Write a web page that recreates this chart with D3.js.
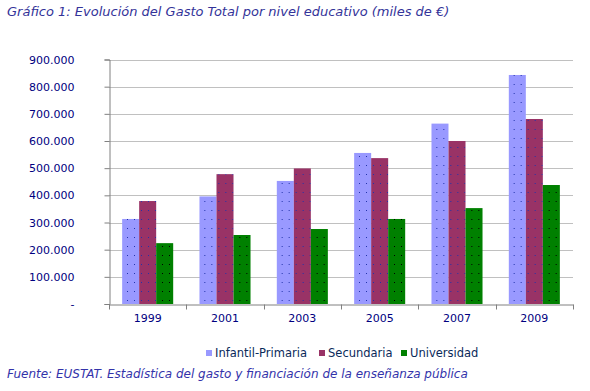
<!DOCTYPE html>
<html>
<head>
<meta charset="utf-8">
<script src="https://cdn.jsdelivr.net/npm/d3@7"></script>
<style>
  body { margin: 0; background: #fff; }
  text { font-family: "DejaVu Sans", Verdana, sans-serif; }
</style>
</head>
<body>
<script>
const years = ['1999', '2001', '2003', '2005', '2007', '2009']
const series = ['Infantil-Primaria', 'Secundaria', 'Universidad']
const infantil = [313000, 396000, 453000, 556000, 664000, 843000]
const secundaria = [379000, 478000, 499000, 537000, 600000, 681000]
const universidad = [224000, 254000, 276000, 313000, 353000, 438000]
const yTicks = [0, 100000, 200000, 300000, 400000, 500000, 600000, 700000, 800000, 900000]

const colors = ['#9999ff', '#993366', '#008000']
const dotColors = ['#2233aa', '#2233aa', '#000000']
const values = [infantil, secundaria, universidad]

const w = 590
const h = 391
const plotLeft = 109
const plotRight = 573
const plotTop = 59.5
const plotBottom = 304

const svg = d3.select('body')
     .append('svg')
     .attr('width', w)
     .attr('height', h)

// dotted fills like the original
const defs = svg.append('defs')
colors.forEach((c, i) => {
     const p = defs.append('pattern')
          .attr('id', 'pat' + i)
          .attr('patternUnits', 'userSpaceOnUse')
          .attr('width', 7)
          .attr('height', 9)
     p.append('rect').attr('width', 7).attr('height', 9).attr('fill', c)
     p.append('rect').attr('x', 4).attr('y', 3).attr('width', 1).attr('height', 1).attr('fill', dotColors[i])
})

const loc = d3.formatLocale({decimal: ',', thousands: '.', grouping: [3], currency: ['', '']})
const fmt = loc.format(',d')

const y = d3.scaleLinear().domain([0, 900000]).range([plotBottom, plotTop])
const x = d3.scaleBand().domain(years).range([plotLeft, plotRight])
const gap = x.bandwidth() * 0.17
const x1 = d3.scaleBand().domain(series).range([gap, x.bandwidth() - gap])

// gridlines
svg.append('g')
     .selectAll('line')
     .data(yTicks.slice(1))
     .enter()
     .append('line')
     .attr('x1', plotLeft)
     .attr('x2', plotRight)
     .attr('y1', d => Math.round(y(d)) + 0.5)
     .attr('y2', d => Math.round(y(d)) + 0.5)
     .attr('stroke', '#c0c0c0')

// bars
const groups = svg.append('g')
     .selectAll('g')
     .data(years)
     .enter()
     .append('g')
     .attr('transform', d => 'translate(' + x(d) + ',0)')

groups.selectAll('rect')
     .data((d, i) => series.map((s, j) => ({s: s, j: j, v: values[j][i]})))
     .enter()
     .append('rect')
     .attr('x', d => x1(d.s))
     .attr('width', x1.bandwidth())
     .attr('y', d => y(d.v))
     .attr('height', d => y(0) - y(d.v))
     .attr('fill', d => 'url(#pat' + d.j + ')')

// y axis
const yAxis = d3.axisLeft(y)
     .tickValues(yTicks)
     .tickSize(5)
     .tickPadding(35 - 5)
     .tickFormat(d => d === 0 ? '-' : fmt(d))

const gy = svg.append('g')
     .attr('transform', 'translate(' + (plotLeft + 0.5) + ',0)')
     .call(yAxis)
gy.selectAll('line').attr('stroke', '#808080')
gy.select('.domain').attr('stroke', '#808080')
gy.selectAll('text')
     .attr('font-size', 11)
     .attr('fill', '#000080')
     .attr('font-family', '"DejaVu Sans", Verdana, sans-serif')

// x axis
const xAxis = d3.axisBottom(x).tickSize(0).tickPadding(10)
const gx = svg.append('g')
     .attr('transform', 'translate(0,' + (plotBottom + 0.5) + ')')
     .call(xAxis)
gx.select('.domain').attr('stroke', '#808080')
gx.selectAll('text')
     .attr('font-size', 11)
     .attr('fill', '#000080')
     .attr('font-family', '"DejaVu Sans", Verdana, sans-serif')
gx.selectAll('.sep')
     .data(years.concat(['end']))
     .enter()
     .append('line')
     .attr('x1', (d, i) => Math.round(plotLeft + i * x.bandwidth()) + 0.5)
     .attr('x2', (d, i) => Math.round(plotLeft + i * x.bandwidth()) + 0.5)
     .attr('y1', 0)
     .attr('y2', 5)
     .attr('stroke', '#808080')

// title
svg.append('text')
     .attr('x', 7)
     .attr('y', 16)
     .attr('font-size', 13)
     .attr('font-style', 'italic')
     .attr('fill', '#333399')
     .text('Gráfico 1: Evolución del Gasto Total por nivel educativo (miles de €)')

// legend
const legendX = [206, 319, 401]
const legend = svg.append('g')
series.forEach((s, i) => {
     legend.append('rect')
          .attr('x', legendX[i])
          .attr('y', 350)
          .attr('width', 6)
          .attr('height', 6)
          .attr('fill', colors[i])
     legend.append('text')
          .attr('x', legendX[i] + 9)
          .attr('y', 357)
          .attr('font-size', 11.5)
          .attr('fill', '#0a2a5a')
          .text(s)
})

// source
svg.append('text')
     .attr('x', 7)
     .attr('y', 378)
     .attr('font-size', 12)
     .attr('font-style', 'italic')
     .attr('fill', '#3333aa')
     .text('Fuente: EUSTAT. Estadística del gasto y financiación de la enseñanza pública')
</script>
</body>
</html>
